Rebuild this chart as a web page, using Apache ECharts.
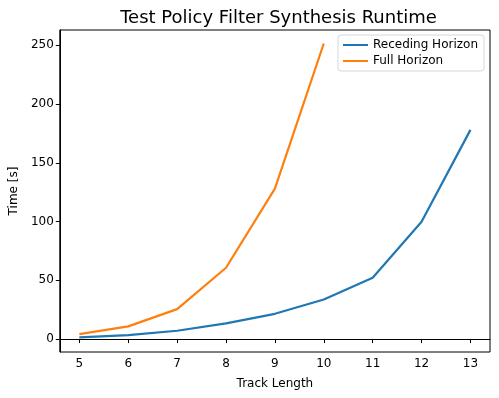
<!DOCTYPE html>
<html>
<head>
<meta charset="utf-8">
<script src="https://cdn.jsdelivr.net/npm/echarts@6/dist/echarts.min.js"></script>
<style>
  html, body { margin: 0; padding: 0; background: #fff; }
  #chart { width: 499px; height: 398px; }
</style>
</head>
<body>
<div id="chart"></div>
<script>
// track lengths and runtimes
const trackLength = [5, 6, 7, 8, 9, 10, 11, 12, 13]
const receding = [1.4, 3.4, 7.1, 13.3, 21.5, 33.7, 52.2, 99.8, 178]
const full = [4.2, 10.8, 25.5, 60.7, 128, 251.5]
const xTicks = [5, 6, 7, 8, 9, 10, 11, 12, 13]
const yTicks = [0, 50, 100, 150, 200, 250]

const font = 'DejaVu Sans'
const pairs = (xs, ys) => ys.map((y, i) => [xs[i], y])

const chart = echarts.init(document.getElementById('chart'))
const option = {
  animation: false,
  backgroundColor: '#fff',
  textStyle: { fontFamily: font, color: '#000' },
  title: {
    text: 'Test Policy Filter Synthesis Runtime',
    left: 273.5,
    textAlign: 'center',
    top: 4,
    textStyle: { fontFamily: font, fontSize: 18, fontWeight: 'normal', color: '#000' }
  },
  grid: {
    left: 57,
    right: 9,
    top: 30,
    bottom: 46,
    show: true,
    borderColor: '#000',
    borderWidth: 1,
    backgroundColor: 'transparent'
  },
  legend: {
    orient: 'vertical',
    right: 15,
    top: 35,
    padding: [4, 6, 4, 5],
    itemGap: 4,
    itemWidth: 25,
    itemHeight: 2,
    icon: 'rect',
    borderColor: '#d6d6d6',
    borderWidth: 1,
    borderRadius: 3,
    textStyle: { fontFamily: font, fontSize: 12, color: '#000' },
    data: ['Receding Horizon', 'Full Horizon']
  },
  xAxis: {
    type: 'value',
    min: 4.6,
    max: 13.4,
    name: 'Track Length',
    nameLocation: 'middle',
    nameGap: 26,
    nameTextStyle: { fontFamily: font, fontSize: 12, color: '#000' },
    axisLine: { show: true, lineStyle: { color: '#000', width: 1 } },
    axisTick: { show: true, inside: false, length: 4, customValues: xTicks, lineStyle: { color: '#000' } },
    axisLabel: { customValues: xTicks, margin: 6, fontFamily: font, fontSize: 12, color: '#000' },
    splitLine: { show: false }
  },
  yAxis: {
    type: 'value',
    min: -11,
    max: 263,
    name: 'Time [s]',
    nameLocation: 'middle',
    nameGap: 38,
    nameTextStyle: { fontFamily: font, fontSize: 12, color: '#000' },
    axisLine: { show: true, lineStyle: { color: '#000', width: 1 } },
    axisTick: { show: true, inside: false, length: 4, customValues: yTicks, lineStyle: { color: '#000' } },
    axisLabel: { customValues: yTicks, margin: 6, fontFamily: font, fontSize: 12, color: '#000' },
    splitLine: { show: false }
  },
  series: [
    {
      name: 'Receding Horizon',
      type: 'line',
      showSymbol: false,
      color: '#1f77b4',
      lineStyle: { width: 2.2 },
      data: pairs(trackLength, receding)
    },
    {
      name: 'Full Horizon',
      type: 'line',
      showSymbol: false,
      color: '#ff7f0e',
      lineStyle: { width: 2.2 },
      data: pairs(trackLength, full)
    }
  ]
}
chart.setOption(option)
</script>
</body>
</html>
